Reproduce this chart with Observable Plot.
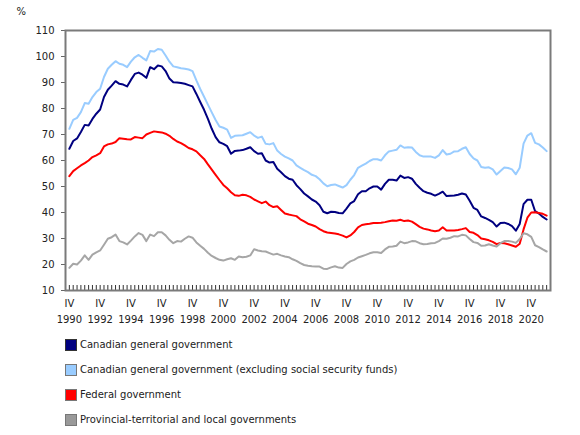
<!DOCTYPE html>
<html><head><meta charset="utf-8">
<script src="https://cdn.jsdelivr.net/npm/d3@7"></script>
<script src="https://cdn.jsdelivr.net/npm/@observablehq/plot@0.6"></script>
<style>
body{margin:0;background:#fff;font-family:"DejaVu Sans",Verdana,sans-serif;}
#legend{margin-left:65px;font-size:10px;color:#222;}
.row{height:25px;display:flex;align-items:center;}
.sw{width:10px;height:10px;border:1px solid #555;margin-right:3px;}
</style></head><body>
<div id="chart"></div><div id="legend"></div>
<script>
// Quarterly values, first point = 1990 Q4
const seriesNames = [
  "Canadian general government",
  "Canadian general government (excluding social security funds)",
  "Federal government",
  "Provincial-territorial and local governments"
];
const seriesColors = ["#000080", "#99ccff", "#ff0000", "#a6a6a6"];
const swatchFills = ["#000080", "#99ccff", "#ff0000", "#999999"];
const swatchBorders = ["#333", "#777", "#777", "#777"];
const firstYear = 1990;
const yTicks = [10, 20, 30, 40, 50, 60, 70, 80, 90, 100, 110];

const navy = [64.5,67.5,68.5,71,73.7,73.5,76,78,79.6,84.4,87.2,88.8,90.5,89.5,89.2,88.5,91,93.3,93.8,93,91.8,95.9,95.1,96.5,96.2,94.4,91.5,90.1,90,89.8,89.5,
  89,88.5,85.6,82.5,79.5,76,72.2,69,67,66.4,65.5,62.6,63.7,63.8,64,64.5,65.1,63.6,62.6,62.8,60,59.2,59.4,56.8,55.5,54,53,52.6,50.5,49,47.3,
  46.2,45,44.2,42.8,40.3,39.7,40.3,40.2,39.8,39.7,41.5,43.5,44.4,47,48.2,48.2,49.3,50,50,48.8,51,52.6,52.6,52.3,54.2,53.3,53.6,53,51,49.5,48.2,
  47.6,47.2,46.5,47.2,48,46.3,46.4,46.5,46.8,47.3,46.9,44.5,41.8,41,38.5,37.9,37.2,36.3,34.6,36,36.1,35.6,34.8,33,35.6,43.2,44.9,44.9,40.5,39.6,38.3,37.3];

const lightBlue = [72.2,75.6,76.4,78.6,82.1,81.8,84.4,86.3,87.6,92.1,95.3,96.8,98.2,97.2,96.8,95.9,98,99.7,100.6,99.5,98.5,102.1,101.9,102.9,102.6,100.4,98,96.2,95.9,95.5,95.3,
  95,94.4,90.8,87.5,84.5,81.5,78.5,75.6,73.1,72.6,71.9,68.7,69.5,69.6,69.7,70.3,70.9,69.6,68.7,69.2,66.4,66.2,66.7,63.8,62.5,61.5,60.8,60,58.1,57.2,56.3,
  55.5,54.5,54,52.8,51.2,50.1,50.6,50.8,50.2,49.6,50.5,52.6,54.4,57.2,58,58.8,59.8,60.5,60.5,60,62,63.5,63.8,64.1,65.8,64.9,65.1,65,63.3,62,61.5,
  61.5,61.5,61,62,64,62.3,62.6,63.5,63.6,64.5,65.1,62.5,60.8,60,57.5,57.2,57.4,56.6,54.6,56,57.3,57.1,56.6,54.7,57.2,66.5,69.6,70.5,66.8,66.2,65,63.6];

const federal = [54.0,55.9,57,58.1,59,60,61.3,62,62.8,65.4,66.2,66.5,67.1,68.6,68.4,68.2,68.1,69.0,68.8,68.6,70.0,70.6,71.2,71,70.8,70.3,69.5,68.3,67.3,66.7,65.8,
  64.8,64.3,63.5,62,60.6,58.5,56.5,54.5,52.5,50.6,49.3,47.8,46.6,46.4,46.8,46.6,46,45,44.3,43.6,44.2,42.8,42.1,42.4,41,39.6,39.2,38.9,38.6,37.4,36.6,
  35.7,35.2,34.6,33.6,32.8,32.3,32.1,31.9,31.6,31.1,30.4,31.2,32.5,34.3,35.2,35.5,35.7,36,36,36.1,36.3,36.6,36.9,36.8,37.2,36.7,36.9,36.5,35.5,34.5,33.8,
  33.5,33.1,32.8,33.1,34.3,33.1,33.1,33.1,33.3,33.6,34,32.5,32.2,31.3,30,29.7,29.3,28.7,27.8,28.3,28.2,27.8,27.3,26.8,28,33.5,38,40,40.1,39.8,39.5,38.8];

const provincial = [18.7,20.3,20.0,21.5,23.5,21.8,23.8,24.7,25.4,27.6,29.9,30.5,31.5,29.0,28.5,27.7,29.2,30.8,32.1,31.4,29.0,31.5,30.9,32.4,32.4,31.2,29.5,28.2,29.0,28.8,29.9,
  30.8,30.3,28.5,27.2,26,24.5,23.3,22.5,21.8,21.5,22,22.4,21.8,23.1,22.8,23,23.5,25.9,25.4,25.1,25,24.4,23.8,24.1,23.5,23.1,22.8,22,21.4,20.5,19.8,
  19.5,19.3,19.2,19.2,18.4,18.3,18.9,19.3,18.8,18.7,20.2,21.2,21.8,22.7,23.2,23.7,24.3,24.7,24.7,24.4,25.8,26.8,26.9,27.2,28.8,28.2,28.5,29,28.9,28.2,27.8,
  27.9,28.2,28.3,29,30,29.9,30.3,30.9,30.8,31.4,31.2,29.8,28.6,28.3,27.2,27.3,27.8,27.3,26.9,28.2,29,29,28.8,28.3,29.8,32,31.6,30.6,27.4,26.7,25.8,25];

const allSeries = [navy, lightBlue, federal, provincial];
const data = allSeries.flatMap((vals, s) => vals.map((v, i) => ({series: seriesNames[s], i, v})));
const n = navy.length;
const labelIdx = d3.range(0, n, 8);
const quarterTicks = d3.range(-1, n + 1);

const chart = Plot.plot({
  width: 580, height: 332,
  marginLeft: 65, marginRight: 30, marginTop: 30, marginBottom: 42,
  style: {fontFamily: "DejaVu Sans, Verdana, sans-serif", fontSize: "10px", color: "#222", background: "#fff"},
  x: {domain: [-1, n], axis: null},
  y: {domain: [10, 110], axis: null},
  color: {domain: seriesNames, range: seriesColors},
  marks: [
    Plot.axisY({ticks: yTicks, tickSize: 4, tickPadding: 7, stroke: "#666", label: null}),
    Plot.tickX(quarterTicks, {x: d => d, insetTop: 255, stroke: "#333", strokeWidth: 1}),
    Plot.line(data, {x: "i", y: "v", z: "series", stroke: "series", strokeWidth: 2, strokeLinejoin: "round"}),
    Plot.frame({stroke: "#7a7a7a", strokeWidth: 2}),
    Plot.text(labelIdx, {x: d => d, frameAnchor: "bottom", dy: 16, text: () => "IV", fill: "#222"}),
    Plot.text(labelIdx, {x: d => d, frameAnchor: "bottom", dy: 32, text: d => String(firstYear + d / 4), fill: "#222"}),
    Plot.text(["%"], {frameAnchor: "top-left", dx: -49, dy: -23, text: d => d, fill: "#222"})
  ]
});
document.getElementById("chart").appendChild(chart);

const legend = document.getElementById("legend");
seriesNames.forEach((name, k) => {
  const row = document.createElement("div");
  row.className = "row";
  const sw = document.createElement("span");
  sw.className = "sw";
  sw.style.background = swatchFills[k];
  sw.style.borderColor = swatchBorders[k];
  const t = document.createElement("span");
  t.textContent = name;
  row.appendChild(sw); row.appendChild(t);
  legend.appendChild(row);
});
</script></body></html>
